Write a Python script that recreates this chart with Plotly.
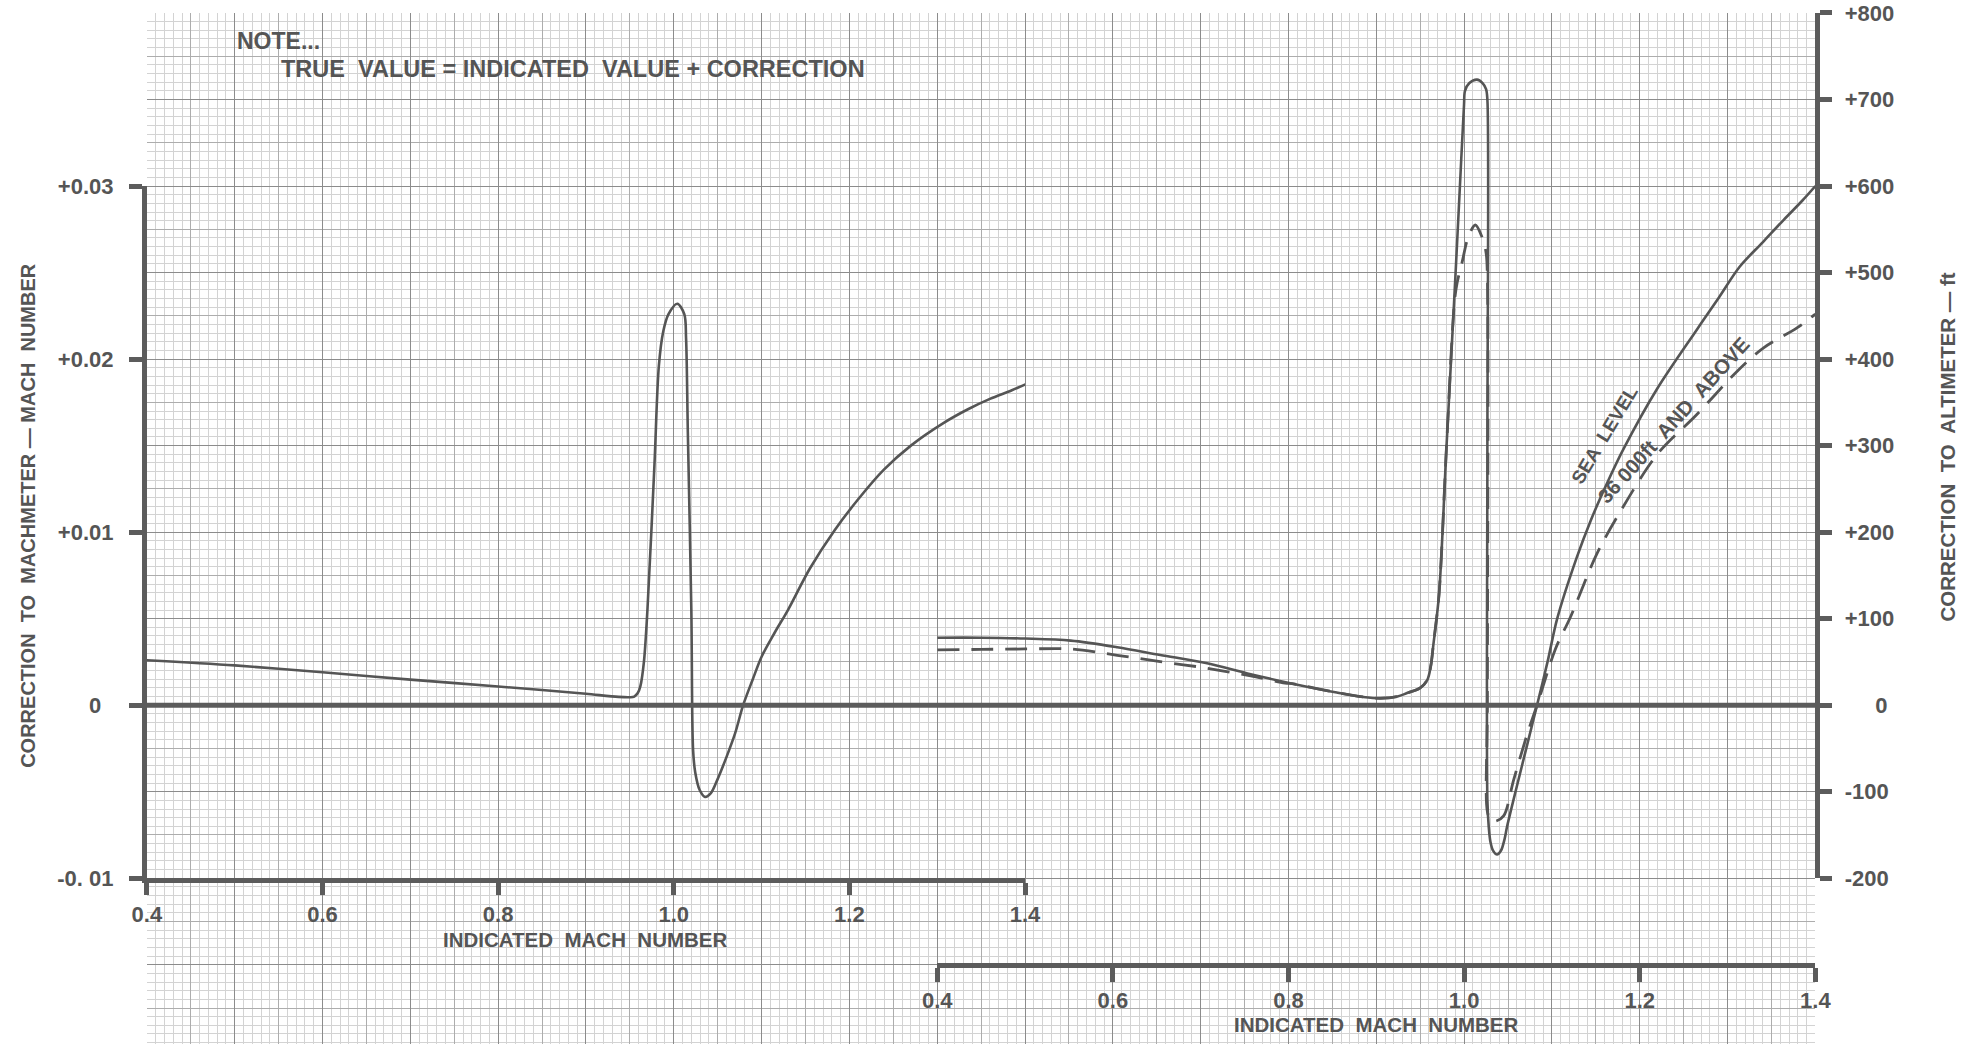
import plotly.graph_objects as go

# ---------------- data ----------------
# Left chart: correction to Machmeter (Mach number) vs indicated Mach number
LEFT_MACH = [0.400, 0.500, 0.600, 0.700, 0.800, 0.850, 0.900, 0.937, 0.950, 0.955,
             0.959, 0.962, 0.966, 0.970, 0.978, 0.983, 0.988, 0.994, 1.004, 1.012,
             1.014, 1.016, 1.020, 1.022, 1.0245, 1.0295, 1.0356, 1.042, 1.0497,
             1.060, 1.070, 1.079, 1.090, 1.100, 1.115, 1.130, 1.155, 1.183, 1.210,
             1.239, 1.270, 1.307, 1.335, 1.360, 1.385, 1.403]
LEFT_CORR = [0.0026, 0.0023, 0.0019, 0.00148, 0.00108, 0.00088, 0.00066, 0.00048, 0.00046, 0.0005,
             0.0007, 0.0011, 0.0025, 0.0055, 0.0139, 0.0196, 0.0216, 0.0226, 0.0232, 0.0226,
             0.0212, 0.0158, 0.0055, -0.0026, -0.0039, -0.0049, -0.0053, -0.0051, -0.0043,
             -0.0030, -0.0016, 0.0, 0.0015, 0.0028, 0.0042, 0.0055, 0.0079, 0.0101, 0.0119,
             0.0136, 0.0150, 0.0163, 0.0171, 0.0177, 0.0182, 0.0186]

# Right chart: correction to altimeter (ft) vs indicated Mach number
SEA_MACH = [0.400, 0.450, 0.500, 0.552, 0.605, 0.654, 0.706, 0.757, 0.806, 0.855,
            0.885, 0.905, 0.924, 0.935, 0.950, 0.958, 0.962, 0.965, 0.9714, 0.980,
            0.9889, 0.9946, 0.9999, 1.001, 1.006, 1.0147, 1.021, 1.025, 1.0265, 1.0265,
            1.0265, 1.028, 1.030, 1.033, 1.0375, 1.042, 1.046, 1.049, 1.060, 1.072,
            1.083, 1.095, 1.106, 1.128, 1.144, 1.163, 1.182, 1.220, 1.265, 1.290,
            1.314, 1.340, 1.364, 1.385, 1.400]
SEA_FT = [78, 78, 77, 74.6, 67, 58, 48.7, 35.7, 24.6, 14.6,
          9.5, 8, 10, 14, 20, 29, 45, 70, 127.6, 300,
          472, 587, 694, 710, 719, 723, 719, 712, 700, 300,
          -110, -140, -158, -168, -172.5, -168, -155, -140, -94, -45,
          0, 50, 100, 170, 213, 257, 297, 366, 434, 471,
          507, 535, 561, 583, 600]

HIGH_MACH = [0.400, 0.450, 0.500, 0.552, 0.605, 0.654, 0.706, 0.757, 0.796, 0.806,
             0.855, 0.885, 0.905, 0.924, 0.935, 0.950, 0.958, 0.962, 0.965, 0.9714,
             0.980, 0.9889, 0.992, 0.9975, 1.005, 1.0128, 1.020, 1.025, 1.0265, 1.0265,
             1.0265, 1.0305, 1.036, 1.045, 1.0565, 1.072, 1.083, 1.104, 1.121, 1.151,
             1.178, 1.220, 1.265, 1.311, 1.341, 1.379, 1.400]
HIGH_FT = [64, 64.5, 65, 65, 57.7, 50.3, 43, 33.8, 25.6, 24.6,
           14.6, 9.5, 8, 10, 14, 20, 29, 45, 70, 127.6,
           300, 465, 488, 511, 542, 555, 542, 523, 495, 0,
           -123, -133, -134, -128, -86, -33, 0, 65, 101.7, 174.5,
           224, 290, 336, 386, 413, 436, 452]

MACH_TICKS = [0.4, 0.6, 0.8, 1.0, 1.2, 1.4]
MACH_LABELS = ["0.4", "0.6", "0.8", "1.0", "1.2", "1.4"]
LEFT_Y_TICKS = [-0.01, 0.0, 0.01, 0.02, 0.03]
LEFT_Y_LABELS = ["-0. 01", "0\u00a0\u00a0", "+0.01", "+0.02", "+0.03"]
RIGHT_Y_TICKS = [-200, -100, 0, 100, 200, 300, 400, 500, 600, 700, 800]
RIGHT_Y_LABELS = ["-200", "-100", "\u00a0\u00a0\u00a0\u00a0\u00a00", "+100", "+200", "+300",
                  "+400", "+500", "+600", "+700", "+800"]

# ---------------- layout geometry ----------------
W, H = 1972, 1057
# measured placement of the target picture (in target pixels) mapped to figure pixels
SX, OX = 1.0104, -10.0
SY, OY = 1.0198, -10.2

GX0, GH = 142.5, 88.3       # graph-paper left edge, major cell width (target px)
GT, GV = 11.0, 86.9         # graph-paper top edge, major cell height (target px)
N_COLS = 19


def px(x):
    return (SX * x + OX) / W


def py(y):
    return 1 - (SY * y + OY) / H


paper_x = [px(GX0), px(GX0 + N_COLS * GH)]
paper_y = [0.0, py(GT)]
grid_bottom_cells = ((H - OY) / SY - GT) / GV

left_xdom = [px(GX0), px(GX0 + 10 * GH)]
left_ydom = [py(GT + 10 * GV), py(GT + 2 * GV)]
right_xdom = [px(GX0 + 9 * GH), px(GX0 + 19 * GH)]
right_ydom = [py(GT + 10 * GV), py(GT)]
right_xpos = py(GT + 11 * GV)

INK = "#555555"
AXC = "#5c5c5c"
FONT = "Liberation Sans, Arial, sans-serif"

fig = go.Figure()

# empty traces so that the two graph-paper subplots get drawn (first = lowest)
fig.add_trace(go.Scatter(x=[None], y=[None], xaxis="x", yaxis="y", mode="lines",
                         hoverinfo="skip"))
fig.add_trace(go.Scatter(x=[None], y=[None], xaxis="x2", yaxis="y2", mode="lines",
                         hoverinfo="skip"))

fig.add_trace(go.Scatter(x=LEFT_MACH, y=LEFT_CORR, xaxis="x3", yaxis="y3", mode="lines",
                         line=dict(color=INK, width=2.6, shape="spline", smoothing=0.9),
                         hoverinfo="skip"))
fig.add_trace(go.Scatter(x=SEA_MACH, y=SEA_FT, xaxis="x4", yaxis="y4", mode="lines",
                         line=dict(color=INK, width=2.6, shape="spline", smoothing=0.9),
                         hoverinfo="skip"))
fig.add_trace(go.Scatter(x=HIGH_MACH, y=HIGH_FT, xaxis="x4", yaxis="y4", mode="lines",
                         line=dict(color=INK, width=2.8, dash="22px,12px",
                                   shape="spline", smoothing=0.9),
                         hoverinfo="skip"))

grid_common = dict(showticklabels=False, ticks="", zeroline=False, showline=False,
                   fixedrange=True)

axis_style = dict(showgrid=False, zeroline=False, showline=True, linewidth=5,
                  linecolor=AXC, ticks="outside", tickwidth=5, tickcolor=AXC,
                  tickfont=dict(family=FONT, size=22, color=INK, weight="bold"),
                  fixedrange=True)

fig.update_layout(
    width=W, height=H,
    margin=dict(l=0, r=0, t=0, b=0),
    paper_bgcolor="white",
    plot_bgcolor="rgba(0,0,0,0)",
    showlegend=False,
    # graph paper: minor + medium lines
    xaxis=dict(domain=paper_x, range=[0, N_COLS], anchor="y", showgrid=True,
               tick0=0, dtick=0.5, gridcolor="#adadad", gridwidth=1,
               minor=dict(dtick=0.1, showgrid=True, gridcolor="#d3d3d3", gridwidth=0.9),
               **grid_common),
    yaxis=dict(domain=paper_y, range=[grid_bottom_cells, 0], anchor="x", showgrid=True,
               tick0=0, dtick=0.5, gridcolor="#adadad", gridwidth=1,
               minor=dict(dtick=0.1, showgrid=True, gridcolor="#d3d3d3", gridwidth=0.9),
               **grid_common),
    # graph paper: major lines
    xaxis2=dict(domain=paper_x, range=[0, N_COLS], anchor="y2", showgrid=True,
                tick0=0, dtick=1, gridcolor="#8c8c8c", gridwidth=1.4, **grid_common),
    yaxis2=dict(domain=paper_y, range=[grid_bottom_cells, 0], anchor="x2", showgrid=True,
                tick0=0, dtick=1, gridcolor="#8c8c8c", gridwidth=1.4, **grid_common),
    # left chart
    xaxis3=dict(domain=left_xdom, range=[0.4, 1.4], anchor="y3",
                tickvals=MACH_TICKS, ticktext=MACH_LABELS, ticklen=12,
                ticklabelstandoff=0, **axis_style),
    yaxis3=dict(domain=left_ydom, range=[-0.01, 0.03], anchor="x3",
                tickvals=LEFT_Y_TICKS, ticktext=LEFT_Y_LABELS, ticklen=13,
                ticklabelstandoff=11, **axis_style),
    # right chart
    xaxis4=dict(domain=right_xdom, range=[0.4, 1.4], anchor="free", position=right_xpos,
                tickvals=MACH_TICKS, ticktext=MACH_LABELS, ticklen=14,
                ticklabelstandoff=0, **axis_style),
    yaxis4=dict(domain=right_ydom, range=[-200, 800], anchor="x4", side="right",
                tickvals=RIGHT_Y_TICKS, ticktext=RIGHT_Y_LABELS, ticklen=12,
                ticklabelstandoff=8, **axis_style),
)

# zero line running across both charts
fig.add_shape(type="line", xref="paper", yref="y3", x0=left_xdom[0], x1=right_xdom[1],
              y0=0, y1=0, line=dict(color=AXC, width=5))


def note(text, x, y, size, angle=0, xanchor="center", xref="paper", yref="paper"):
    fig.add_annotation(text=text, x=x, y=y, xref=xref, yref=yref, showarrow=False,
                       xanchor=xanchor, yanchor="middle", textangle=angle,
                       font=dict(family=FONT, size=size, color=INK, weight="bold"))


note("NOTE...", px(231), py(39), 23, xanchor="left")
note("TRUE  VALUE = INDICATED  VALUE + CORRECTION", px(275), py(67), 23.5, xanchor="left")
note("INDICATED  MACH  NUMBER", (left_xdom[0] + left_xdom[1]) / 2, py(942), 20.5)
note("INDICATED  MACH  NUMBER", (right_xdom[0] + right_xdom[1]) / 2, py(1027), 20.5)
note("CORRECTION  TO  MACHMETER \u2014 MACH  NUMBER", px(23), py(516), 20, angle=-90)
note("CORRECTION  TO  ALTIMETER \u2014 ft", px(1953), py(447), 20.5, angle=-90)
note("SEA  LEVEL", 1.160, 313, 19, angle=-59, xref="x4", yref="y4")
note("36 000ft  AND  ABOVE", 1.239, 330, 20.5, angle=-48, xref="x4", yref="y4")

fig.write_html("out.html", config={"displayModeBar": False})
